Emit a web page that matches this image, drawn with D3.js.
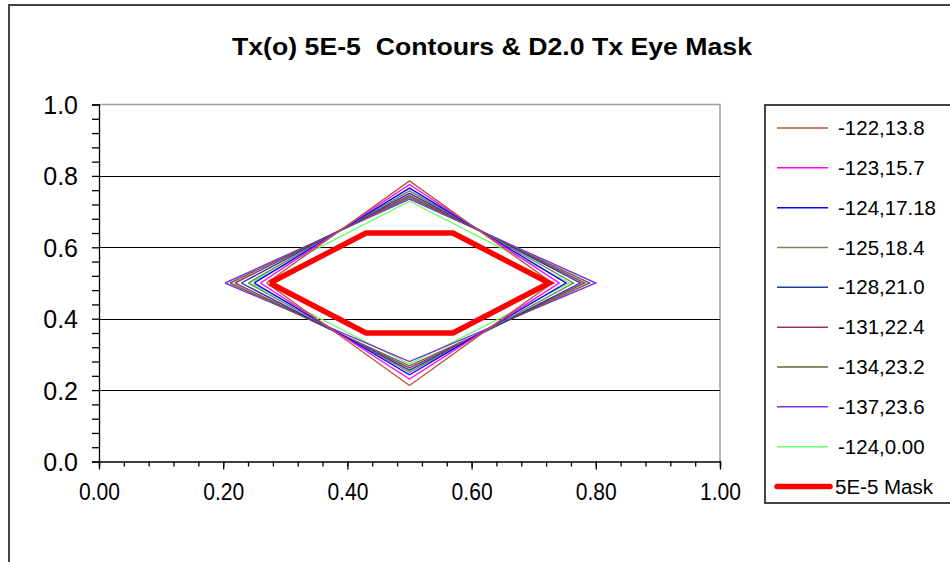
<!DOCTYPE html>
<html><head><meta charset="utf-8">
<script src="https://cdn.jsdelivr.net/npm/d3@7"></script>
<style>
html,body{margin:0;padding:0;background:#fff;}
svg{display:block;}
text{font-family:Arial,"Liberation Sans",sans-serif;fill:#000;}
</style></head>
<body>
<div id="chart"></div>
<script>
// ---- data ----
const seriesNames = ["-122,13.8","-123,15.7","-124,17.18","-125,18.4","-128,21.0","-131,22.4","-134,23.2","-137,23.6","-124,0.00"];
const seriesColors = ["#b45a32","#ff00ff","#0000ff","#7f7f55","#1f3fa0","#993366","#66663a","#7f2fe0","#66ff66"];
// diamond vertices: left x, top y, right x, bottom y (contour at x=0.5 / y=0.5)
const leftX   = [0.270,0.260,0.250,0.240,0.229,0.219,0.211,0.203,0.243];
const topY    = [0.786,0.776,0.766,0.758,0.751,0.745,0.740,0.735,0.729];
const rightX  = [0.730,0.741,0.752,0.764,0.775,0.782,0.790,0.800,0.758];
const bottomY = [0.213,0.231,0.243,0.250,0.256,0.262,0.268,0.280,0.273];
const maskName = "5E-5 Mask";
const maskX = [0.275,0.43,0.57,0.725,0.57,0.43,0.275];
const maskY = [0.50,0.64,0.64,0.50,0.36,0.36,0.50];
const xTicks = [0,0.2,0.4,0.6,0.8,1.0];
const yTicks = [0,0.2,0.4,0.6,0.8,1.0];
const titleText = "Tx(o) 5E-5  Contours & D2.0 Tx Eye Mask";

// ---- layout ----
const W = 950, H = 562;
const FONT = "Arial, 'Liberation Sans', sans-serif";
const svg = d3.select("#chart").append("svg").attr("width", W).attr("height", H);

// outer chart border
svg.append("path").attr("d", "M9,562 L9,5 L950,5").attr("fill","none").attr("stroke","#444").attr("stroke-width",2);

const x = d3.scaleLinear().domain([0,1]).range([99,720]);
const y = d3.scaleLinear().domain([0,1]).range([461.5,104.5]);

// plot border (top/right gray)
svg.append("path").attr("d", `M${x(0)},${y(1)} L${x(1)},${y(1)} L${x(1)},${y(0)}`)
  .attr("fill","none").attr("stroke","#a0a0a0").attr("stroke-width",1.5);

// gridlines
svg.append("g").selectAll("line").data(yTicks.filter(d=>d>0&&d<1)).join("line")
  .attr("x1",x(0)).attr("x2",x(1)).attr("y1",d=>Math.round(y(d))+0.5).attr("y2",d=>Math.round(y(d))+0.5)
  .attr("stroke","#000").attr("stroke-width",1.2);

// axes
const minorY = d3.range(0,1.0001,0.04);
const yAxis = d3.axisLeft(y).tickValues(minorY).tickSize(7).tickFormat("");
svg.append("g").attr("transform",`translate(${x(0)},0)`).call(yAxis)
  .call(g=>g.selectAll("path,line").attr("stroke","#000").attr("stroke-width",1.3));
const yAxisLbl = d3.axisLeft(y).tickValues(yTicks).tickSize(0).tickPadding(21).tickFormat(d3.format(".1f"));
svg.append("g").attr("transform",`translate(${x(0)},0)`).call(yAxisLbl)
  .call(g=>{g.select(".domain").remove();g.selectAll("text").attr("font-size",25).attr("font-family",FONT).attr("fill","#000").attr("dy","0.36em");});

const minorX = d3.range(0,1.0001,0.04);
const xAxis = d3.axisBottom(x).tickValues(minorX).tickSize(5).tickFormat("");
svg.append("g").attr("transform",`translate(0,${y(0)})`).call(xAxis)
  .call(g=>g.selectAll("path,line").attr("stroke","#000").attr("stroke-width",1.3));
const xAxisMaj = d3.axisBottom(x).tickValues(xTicks).tickSize(8).tickPadding(13).tickFormat(d3.format(".2f"));
svg.append("g").attr("transform",`translate(0,${y(0)})`).call(xAxisMaj)
  .call(g=>{g.select(".domain").remove();g.selectAll("line").attr("stroke","#000").attr("stroke-width",1.3);
    g.selectAll("text").attr("font-size",24).attr("font-family",FONT).attr("fill","#000")
      .attr("textLength",41).attr("lengthAdjust","spacingAndGlyphs");});

// contours
const line = d3.line().x(d=>x(d[0])).y(d=>y(d[1]));
const series = seriesNames.map((n,i)=>({name:n,color:seriesColors[i],
  pts:[[leftX[i],0.5],[0.5,topY[i]],[rightX[i],0.5],[0.5,bottomY[i]],[leftX[i],0.5]]}));
const order = [8,7,6,5,4,3,2,1,0];
svg.append("g").selectAll("path").data(order.map(i=>series[i])).join("path")
  .attr("d",d=>line(d.pts)).attr("fill","none").attr("stroke",d=>d.color).attr("stroke-width",1.4);

// mask
svg.append("path").attr("d",line(maskX.map((v,i)=>[v,maskY[i]])))
  .attr("fill","none").attr("stroke","#ff0000").attr("stroke-width",5.5).attr("stroke-linejoin","miter");

// title
svg.append("text").attr("x",492).attr("y",55).attr("text-anchor","middle")
  .attr("font-size",24).attr("font-weight","bold").style("white-space","pre")
  .attr("textLength",520).attr("lengthAdjust","spacingAndGlyphs").text(titleText);

// legend
const lg = svg.append("g");
lg.append("rect").attr("x",765).attr("y",105).attr("width",200).attr("height",398)
  .attr("fill","#fff").attr("stroke","#444").attr("stroke-width",2);
const legItems = series.map(s=>({name:s.name,color:s.color,w:1.5})).concat([{name:maskName,color:"#ff0000",w:5.5,mask:true}]);
const ly = d3.scaleLinear().domain([0,9]).range([128,486.5]);
const li = lg.selectAll("g.item").data(legItems).join("g").attr("class","item")
  .attr("transform",(d,i)=>`translate(0,${ly(i)})`);
li.append("line").attr("x1",777).attr("x2",d=>d.mask?830:828).attr("y1",0).attr("y2",0)
  .attr("stroke",d=>d.color).attr("stroke-width",d=>d.w).attr("stroke-linecap",d=>d.mask?"round":"butt");
li.append("text").attr("x",d=>d.mask?835:838).attr("y",7).attr("font-size",20.5).text(d=>d.name);
</script>
</body></html>
